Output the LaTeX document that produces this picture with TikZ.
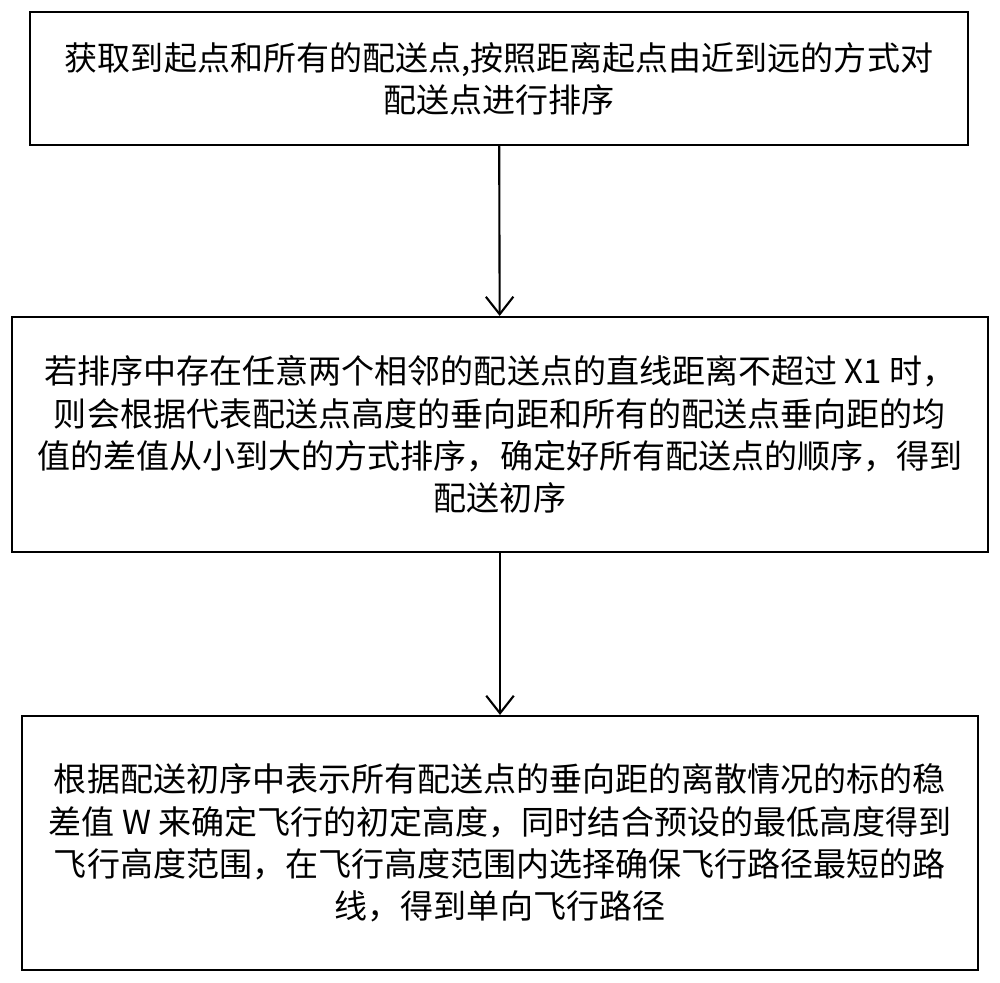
\documentclass[tikz,border=0pt]{standalone}
\usepackage{fontspec}
\setmainfont{Noto Sans CJK SC}
\usetikzlibrary{arrows.meta}
\tikzset{stepbox/.style={shape=rectangle,draw=black,line width=1.2pt,align=center,font=\fontsize{18.8}{24}\selectfont,inner sep=0pt}}
\begin{document}
\begin{tikzpicture}
    \useasboundingbox (0,0) rectangle (20,-19.66);
    \node[stepbox,minimum width=18.76cm,minimum height=2.66cm] (fetch) at (9.98,-1.57) {获取到起点和所有的配送点,按照距离起点由近到远的方式对\\配送点进行排序};
    \node[stepbox,minimum width=19.52cm,minimum height=4.7cm] (order) at (10,-8.69) {若排序中存在任意两个相邻的配送点的直线距离不超过 X1 时，\\则会根据代表配送点高度的垂向距和所有的配送点垂向距的均\\值的差值从小到大的方式排序，确定好所有配送点的顺序，得到\\配送初序};
    \node[stepbox,minimum width=19.12cm,minimum height=5.08cm] (route) at (10,-16.86) {根据配送初序中表示所有配送点的垂向距的离散情况的标的稳\\差值 W 来确定飞行的初定高度，同时结合预设的最低高度得到\\飞行高度范围，在飞行高度范围内选择确保飞行路径最短的路\\线，得到单向飞行路径};
    \path [-{Straight Barb[length=3.5mm,width=5.5mm]},line width=1.2pt] (fetch) edge (order);
    \path [-{Straight Barb[length=3.5mm,width=5.5mm]},line width=1.2pt] (order) edge (route);
\end{tikzpicture}
\end{document}
